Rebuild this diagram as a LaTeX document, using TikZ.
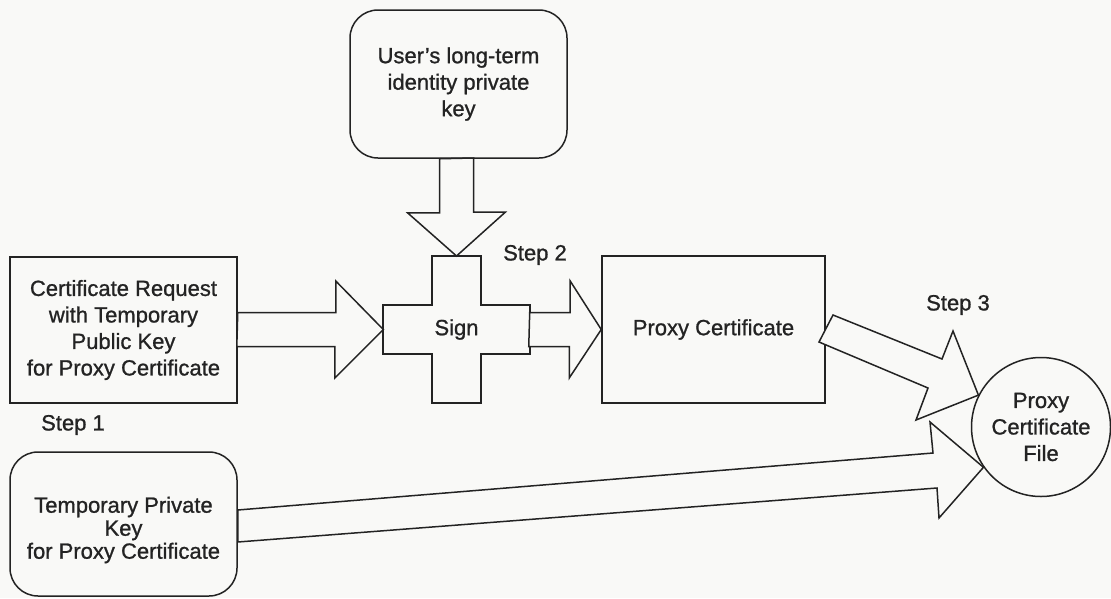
\documentclass[tikz,border=0pt]{standalone}
\usepackage{fontspec}
\setmainfont[FakeBold=1.0]{Liberation Sans}
\usetikzlibrary{calc,shapes.geometric}
\definecolor{ink}{RGB}{35,35,35}
\definecolor{paper}{RGB}{249,249,247}
\begin{document}
\begin{tikzpicture}[x=1pt,y=-1pt,
  lin/.style={draw=ink, line width=1.5pt, line join=miter},
  txt/.style={font=\fontsize{22}{26.5}\selectfont, align=center, text=ink},
  sqbox/.style={lin, rectangle, fill=paper, inner sep=0pt, txt},
  rbox/.style={lin, rectangle, rounded corners=28pt, fill=paper, inner sep=0pt, txt},
  barrow/.style={lin, fill=paper},
  steplabel/.style={txt, inner sep=0pt}]
\fill[paper] (0,0) rectangle (1111,598);
\useasboundingbox (0,0) rectangle (1111,598);

% nodes
\node[rbox, minimum width=217pt, minimum height=148pt] (ukey) at (458.5,84) {User's long-term\\identity private\\key};
\node[sqbox, minimum width=227pt, minimum height=146pt] (req) at (123.5,330) {Certificate Request\\with Temporary\\Public Key\\for Proxy Certificate};
\node[sqbox, minimum width=223pt, minimum height=147pt] (proxy) at (713.5,329.5) {Proxy Certificate};
\node[rbox, minimum width=227pt, minimum height=144pt] (tkey) at (123.5,524) {};
\node[txt, font=\fontsize{22}{23}\selectfont, inner sep=0pt] (tkeytxt) at ($(tkey.center)+(0,6)$) {Temporary Private\\Key\\for Proxy Certificate};
\node[lin, circle, fill=paper, minimum size=139pt, inner sep=0pt, txt] (file) at (1041,427) {Proxy\\Certificate\\File};

% sign cross (horizontal bar as the node, vertical bar drawn around it)
\node[txt, minimum width=146pt, minimum height=49pt, inner sep=0pt] (sign) at (456.5,329.5) {};
\coordinate (signN) at ($(sign.center)+(0,-73.5)$);
\draw[lin, fill=paper] ([shift={(-24.5,-73.5)}]sign.center) -- ++(49,0) -- ++(0,49) -- ++(49,0) -- ++(0,49)
  -- ++(-49,0) -- ++(0,49) -- ++(-49,0) -- ++(0,-49) -- ++(-49,0) -- ++(0,-49) -- ++(49,0) -- cycle;
\node[txt] (signtxt) at (sign.center) {Sign};

% block arrows
\draw[barrow] (ukey.south -| signN) ++(-17,0) -- ++(0,54) -- ++(-32,0) -- (signN)
  -- ++(49,-44) -- ++(-32,0) -- ++(0,-54) -- cycle;
\draw[barrow] (req.east |- sign.west) ++(0,-17) -- ++(98,0) -- ++(0,-31.5) -- (sign.west)
  -- ++(-48.5,48.5) -- ++(0,-31.5) -- ++(-98,0) -- cycle;
\draw[barrow] (sign.east) ++(0,-17) -- ++(40.5,0) -- ++(0,-31.5) -- (proxy.west)
  -- ++(-32,48.5) -- ++(0,-31.5) -- ++(-40.5,0) -- cycle;
\draw[barrow] (819,342) -- (833,315) -- (942,359) -- (953,331) -- (file.153)
  -- (916,420) -- (928,388) -- cycle;
\draw[barrow] (tkey.east |- 0,510) -- (933,453) -- (930,422) -- (file.215)
  -- (939,518) -- (937,488) -- (tkey.east |- 0,542) -- cycle;

% step labels
\node[steplabel] (s1) at (73,425) {Step 1};
\node[steplabel] (s2) at (535,255) {Step 2};
\node[steplabel] (s3) at (958,305) {Step 3};
\end{tikzpicture}
\end{document}
